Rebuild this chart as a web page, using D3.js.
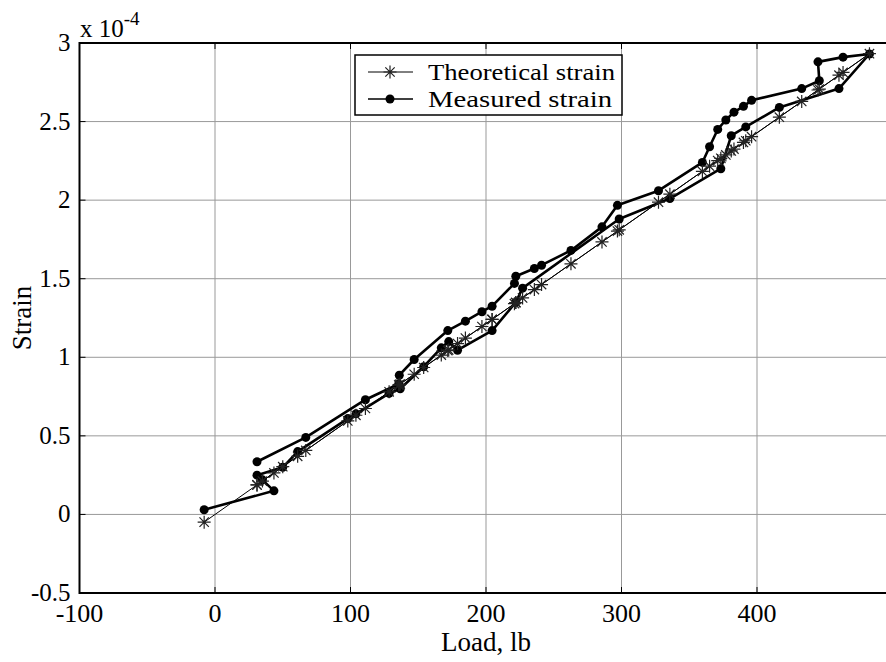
<!DOCTYPE html>
<html>
<head>
<meta charset="utf-8">
<script src="https://cdn.jsdelivr.net/npm/d3@7"></script>
<style>
  body { margin: 0; background: #fff; }
  svg text { font-family: "Liberation Serif", "Times New Roman", serif; }
</style>
</head>
<body>
<div id="chart"></div>
<script>
// load points in the order they were recorded (lb)
const load = [-8, 43.5, 35, 31, 50, 61, 98, 104, 128.5, 136.7, 154, 167, 172.5, 179, 204.5, 222, 227,
  298.3, 335.7, 373.3, 381, 391.7, 416.5, 460.5, 483, 463.5, 445, 446, 433, 396, 390, 383, 377, 371,
  365, 359.7, 327.3, 297, 285.6, 262.7, 241, 235.7, 222, 221, 204.5, 197, 184.8, 171.8, 147, 136,
  135.6, 111, 67, 31];
// strain, x 10^-4
const theoretical = [-0.049, 0.264, 0.212, 0.188, 0.304, 0.370, 0.595, 0.631, 0.780, 0.830, 0.935,
  1.014, 1.047, 1.087, 1.241, 1.348, 1.378, 1.811, 2.038, 2.266, 2.313, 2.378, 2.528, 2.795, 2.932,
  2.813, 2.701, 2.707, 2.628, 2.404, 2.367, 2.325, 2.288, 2.252, 2.216, 2.183, 1.987, 1.803, 1.734,
  1.595, 1.463, 1.431, 1.348, 1.341, 1.241, 1.196, 1.122, 1.043, 0.892, 0.826, 0.823, 0.674, 0.407,
  0.188];
const measured = [0.03, 0.15, 0.22, 0.25, 0.30, 0.40, 0.61, 0.64, 0.77, 0.80, 0.94, 1.06, 1.10,
  1.045, 1.17, 1.35, 1.44, 1.88, 2.01, 2.20, 2.41, 2.466, 2.59, 2.71, 2.93, 2.91, 2.88, 2.76, 2.71,
  2.635, 2.597, 2.56, 2.51, 2.45, 2.34, 2.24, 2.06, 1.967, 1.83, 1.68, 1.586, 1.565, 1.516, 1.47,
  1.325, 1.29, 1.23, 1.17, 0.986, 0.886, 0.83, 0.73, 0.49, 0.335];

const xTicks = [-100, 0, 100, 200, 300, 400];
const yTicks = [-0.5, 0, 0.5, 1, 1.5, 2, 2.5, 3];
const yTickLabels = ["-0.5", "0", "0.5", "1", "1.5", "2", "2.5", "3"];
const seriesNames = ["Theoretical strain", "Measured strain"];

const W = 886, H = 662;
const margin = { top: 43, left: 79.5 };
const width = 813, height = 550;

const svg = d3.select("#chart").append("svg")
    .attr("width", W)
    .attr("height", H);

const g = svg.append("g")
    .attr("transform", `translate(${margin.left},${margin.top})`);

const x = d3.scaleLinear().domain([-100, 500]).range([0, width]);
const y = d3.scaleLinear().domain([-0.5, 3]).range([height, 0]);

// grid
g.append("g")
    .selectAll("line")
    .data(xTicks.slice(1))
    .enter().append("line")
    .attr("x1", d => x(d)).attr("x2", d => x(d))
    .attr("y1", 0).attr("y2", height)
    .attr("stroke", "#999").attr("stroke-width", 1);

g.append("g")
    .selectAll("line")
    .data(yTicks.slice(1, -1))
    .enter().append("line")
    .attr("x1", 0).attr("x2", width)
    .attr("y1", d => y(d)).attr("y2", d => y(d))
    .attr("stroke", "#999").attr("stroke-width", 1);

// inward ticks
const tickLen = 6;
const ticks = g.append("g").attr("stroke", "#000").attr("stroke-width", 1);
xTicks.forEach(d => {
    ticks.append("line").attr("x1", x(d)).attr("x2", x(d)).attr("y1", height).attr("y2", height - tickLen);
    ticks.append("line").attr("x1", x(d)).attr("x2", x(d)).attr("y1", 0).attr("y2", tickLen);
});
yTicks.forEach(d => {
    ticks.append("line").attr("x1", 0).attr("x2", tickLen).attr("y1", y(d)).attr("y2", y(d));
});

// axes box (right side falls off the page)
g.append("path")
    .attr("d", `M${width},0H0V${height}H${width}`)
    .attr("fill", "none")
    .attr("stroke", "#000")
    .attr("stroke-width", 2);

// tick labels
g.append("g")
    .selectAll("text")
    .data(xTicks)
    .enter().append("text")
    .attr("x", d => x(d))
    .attr("y", height + 29)
    .attr("text-anchor", "middle")
    .attr("font-size", 26)
    .text(d => d);

g.append("g")
    .selectAll("text")
    .data(yTicks)
    .enter().append("text")
    .attr("x", -9)
    .attr("y", d => y(d) + 8)
    .attr("text-anchor", "end")
    .attr("font-size", 25)
    .text((d, i) => yTickLabels[i]);

// exponent label
const expo = svg.append("text")
    .attr("x", 80)
    .attr("y", 37)
    .attr("font-size", 25);
expo.append("tspan").text("x 10");
expo.append("tspan").attr("font-size", 19).attr("dy", -12).text("-4");

// axis titles
svg.append("text")
    .attr("x", margin.left + x(200))
    .attr("y", 651)
    .attr("text-anchor", "middle")
    .attr("font-size", 27)
    .text("Load, lb");

svg.append("text")
    .attr("transform", `translate(31,${margin.top + y(1.25)}) rotate(-90)`)
    .attr("text-anchor", "middle")
    .attr("font-size", 27)
    .text("Strain");

// series
const pts = (vals) => load.map((l, i) => [l, vals[i]]);
const line = d3.line().x(d => x(d[0])).y(d => y(d[1]));

function starPath(s) {
    const r = s / 2, q = r * 0.72;
    return `M${-r},0H${r}M0,${-r}V${r}M${-q},${-q}L${q},${q}M${-q},${q}L${q},${-q}`;
}

// measured: thick line with filled dots
g.append("path")
    .datum(pts(measured))
    .attr("d", line)
    .attr("fill", "none")
    .attr("stroke", "#000")
    .attr("stroke-width", 2.6)
    .attr("stroke-linejoin", "round");

g.append("g")
    .selectAll("circle")
    .data(pts(measured))
    .enter().append("circle")
    .attr("cx", d => x(d[0]))
    .attr("cy", d => y(d[1]))
    .attr("r", 4.5)
    .attr("fill", "#000");

// theoretical: thin line with asterisks
g.append("path")
    .datum(pts(theoretical))
    .attr("d", line)
    .attr("fill", "none")
    .attr("stroke", "#000")
    .attr("stroke-width", 1);

g.append("g")
    .selectAll("path")
    .data(pts(theoretical))
    .enter().append("path")
    .attr("transform", d => `translate(${x(d[0])},${y(d[1])})`)
    .attr("d", starPath(13))
    .attr("stroke", "#222")
    .attr("stroke-width", 1.2)
    .attr("fill", "none");

// legend
const leg = svg.append("g");
leg.append("rect")
    .attr("x", 355).attr("y", 55)
    .attr("width", 267).attr("height", 60)
    .attr("fill", "#fff")
    .attr("stroke", "#000")
    .attr("stroke-width", 1.5);

const rows = [72, 99];
seriesNames.forEach((name, i) => {
    leg.append("line")
        .attr("x1", 368).attr("x2", 413)
        .attr("y1", rows[i]).attr("y2", rows[i])
        .attr("stroke", "#000")
        .attr("stroke-width", i === 0 ? 1 : 1.5);
    if (i === 0) {
        leg.append("path")
            .attr("transform", `translate(390,${rows[i]})`)
            .attr("d", starPath(13))
            .attr("stroke", "#222")
            .attr("stroke-width", 1.2);
    } else {
        leg.append("circle")
            .attr("cx", 390).attr("cy", rows[i])
            .attr("r", 4.5)
            .attr("fill", "#000");
    }
    leg.append("text")
        .attr("x", 428)
        .attr("y", rows[i] + 8)
        .attr("font-size", 24)
        .attr("textLength", i === 0 ? 187 : 184)
        .attr("lengthAdjust", "spacingAndGlyphs")
        .text(name);
});
</script>
</body>
</html>
